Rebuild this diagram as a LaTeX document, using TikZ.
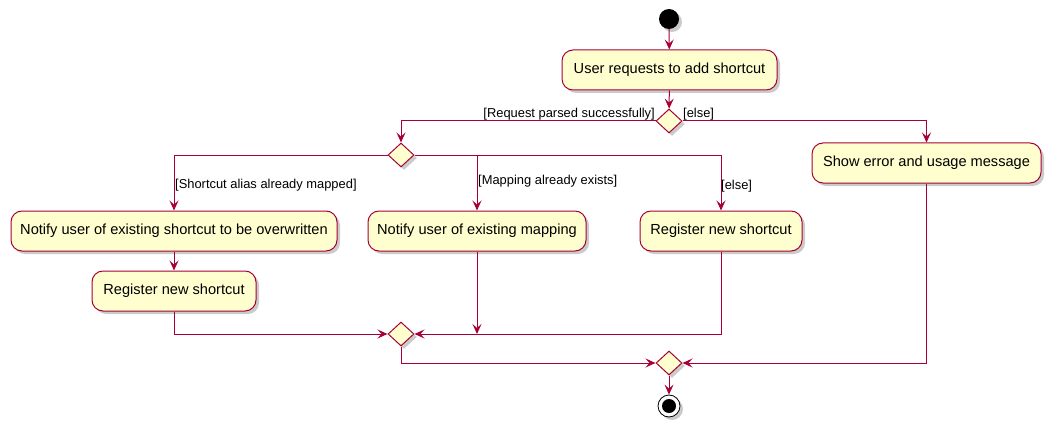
\documentclass[tikz,border=0pt]{standalone}
\usepackage{fontspec}
\setmainfont{Liberation Sans}
\usetikzlibrary{arrows.meta,shapes.geometric,shadows}
\definecolor{pline}{HTML}{A80036}
\definecolor{pfill}{HTML}{FEFECE}
\tikzset{
  shad/.style={drop shadow={shadow xshift=3pt,shadow yshift=-3pt,fill=black!45,opacity=.45}},
  act/.style={draw=pline,fill=pfill,line width=1pt,rounded corners=11pt,minimum height=40pt,inner sep=0pt,font=\fontsize{14.6}{16}\selectfont,shad},
  dec/.style={draw=pline,fill=pfill,line width=1pt,diamond,minimum width=26pt,minimum height=24pt,inner sep=0pt,shad},
  arr/.style={draw=pline,line width=1pt,-{Stealth[length=10pt,width=9pt,inset=4pt]}},
  lbl/.style={font=\fontsize{12.9}{14}\selectfont,inner sep=1pt},
}
\begin{document}
\begin{tikzpicture}[x=1pt,y=-1pt]
\useasboundingbox (0,0) rectangle (1057,433);
\node[circle,fill=black,minimum size=20pt,inner sep=0pt,shad] (start) at (669,19) {};
\node[act,minimum width=215pt] (a1) at (669.5,70) {User requests to add shortcut};
\node[dec] (d1) at (669,121) {};
\node[dec] (d2) at (401,155) {};
\node[act,minimum width=229pt] (err) at (926.5,163) {Show error and usage message};
\node[act,minimum width=326pt] (n1) at (174,231) {Notify user of existing shortcut to be overwritten};
\node[act,minimum width=218pt] (n2) at (477,231) {Notify user of existing mapping};
\node[act,minimum width=162pt] (r1) at (721,231) {Register new shortcut};
\node[act,minimum width=164pt] (r2) at (174,291) {Register new shortcut};
\node[dec] (d3) at (401,334) {};
\node[dec] (d4) at (669,363) {};
\node[circle,draw=black,fill=white,line width=0.8pt,minimum size=22pt,inner sep=0pt,shad] (end) at (669,406) {};
\node[circle,fill=black,minimum size=14pt,inner sep=0pt] (endin) at (end) {};

\draw[arr] (start) -- (a1);
\draw[arr] (a1) -- (d1);
\draw[arr] (d1.west) -| (d2.north);
\draw[arr] (d1.east) -| (err.north);
\node[lbl,anchor=south east] (l1) at (656,121) {[Request parsed successfully]};
\node[lbl,anchor=south west] (l2) at (682,121) {[else]};
\draw[arr] (d2.west) -| (n1.north);
\draw[arr] (d2.east) -| (r1.north);
\draw[arr] (d2.east -| n2.north) -- (n2.north);
\node[lbl,anchor=west] (l3) at (174,185) {[Shortcut alias already mapped]};
\node[lbl,anchor=west] (l4) at (477,181) {[Mapping already exists]};
\node[lbl,anchor=west] (l5) at (720,186) {[else]};
\draw[arr] (n1) -- (r2);
\draw[arr] (r2.south) |- (d3.west);
\draw[arr] (r1.south) |- (d3.east);
\draw[arr] (n2.south) -- (n2.south |- d3.east);
\draw[arr] (d3.south) |- (d4.west);
\draw[arr] (err.south) |- (d4.east);
\draw[arr] (d4) -- (end);
\end{tikzpicture}
\end{document}
